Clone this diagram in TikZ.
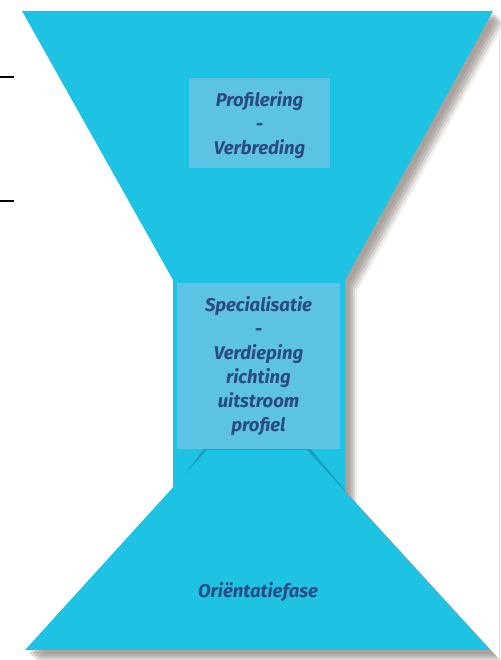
\documentclass[tikz,border=0pt]{standalone}
\usepackage{fontspec}
\setmainfont{Fira Sans}
\definecolor{cyanmain}{HTML}{1EC3E3}
\definecolor{boxlight}{HTML}{5CC3E4}
\definecolor{txtblue}{HTML}{2B4A85}
\definecolor{shadowc}{HTML}{958C86}
\definecolor{edgedark}{HTML}{1592AD}
\begin{document}
\begin{tikzpicture}[x=1pt,y=1pt,
  lbl/.style={text=txtblue,font=\fontsize{18.5}{24}\selectfont\itshape\bfseries,align=center,inner sep=0pt},
  lightbox/.style={fill=boxlight,draw=none},
  leftmark/.style={line width=2pt,black}]
\useasboundingbox (0,0) rectangle (500,660);
% shadows (blurred by layering)
\foreach \o/\a in {12/0.15,10/0.25,8/0.3,6/0.35,4/0.35}{
  \fill[shadowc,opacity=\a,shift={(\o,-\o)}]
    (22,649) -- (493,649) -- (345,380) -- (345,163) -- (173,163) -- (173,380) -- cycle;
  \fill[shadowc,opacity=\a,shift={(\o,-\o)}]
    (207,210) -- (307,210) -- (490,10) -- (25,10) -- cycle;
}
% top trapezoid and neck
\fill[cyanmain] (22,649) -- (493,649) -- (345,380) -- (345,163) -- (173,163) -- (173,380) -- cycle;
% dark edge along bottom trapezoid's upper sides
\draw[edgedark,line width=4pt,opacity=0.75] (174,168) -- (207,212) -- (307,212) -- (344,168);
% bottom trapezoid
\fill[cyanmain] (207,210) -- (307,210) -- (490,10) -- (25,10) -- cycle;
% light text boxes
\fill[lightbox] (189,582) rectangle (330,492);
\fill[lightbox] (177,377) rectangle (340,211);
% labels
\node[lbl] (top) at (259.5,535) {Profilering\\-\\Verbreding};
\node[lbl] (mid) at (258.5,294) {Specialisatie\\-\\Verdieping\\richting\\uitstroom\\profiel};
\node[lbl] (bot) at (258,68) {Oriëntatiefase};
% left marks
\draw[leftmark] (0,583) -- (14,583);
\draw[leftmark] (0,459) -- (14,459);
% right border line
\draw[black!12,line width=0.8pt] (499,0) -- (499,625);
\end{tikzpicture}
\end{document}
